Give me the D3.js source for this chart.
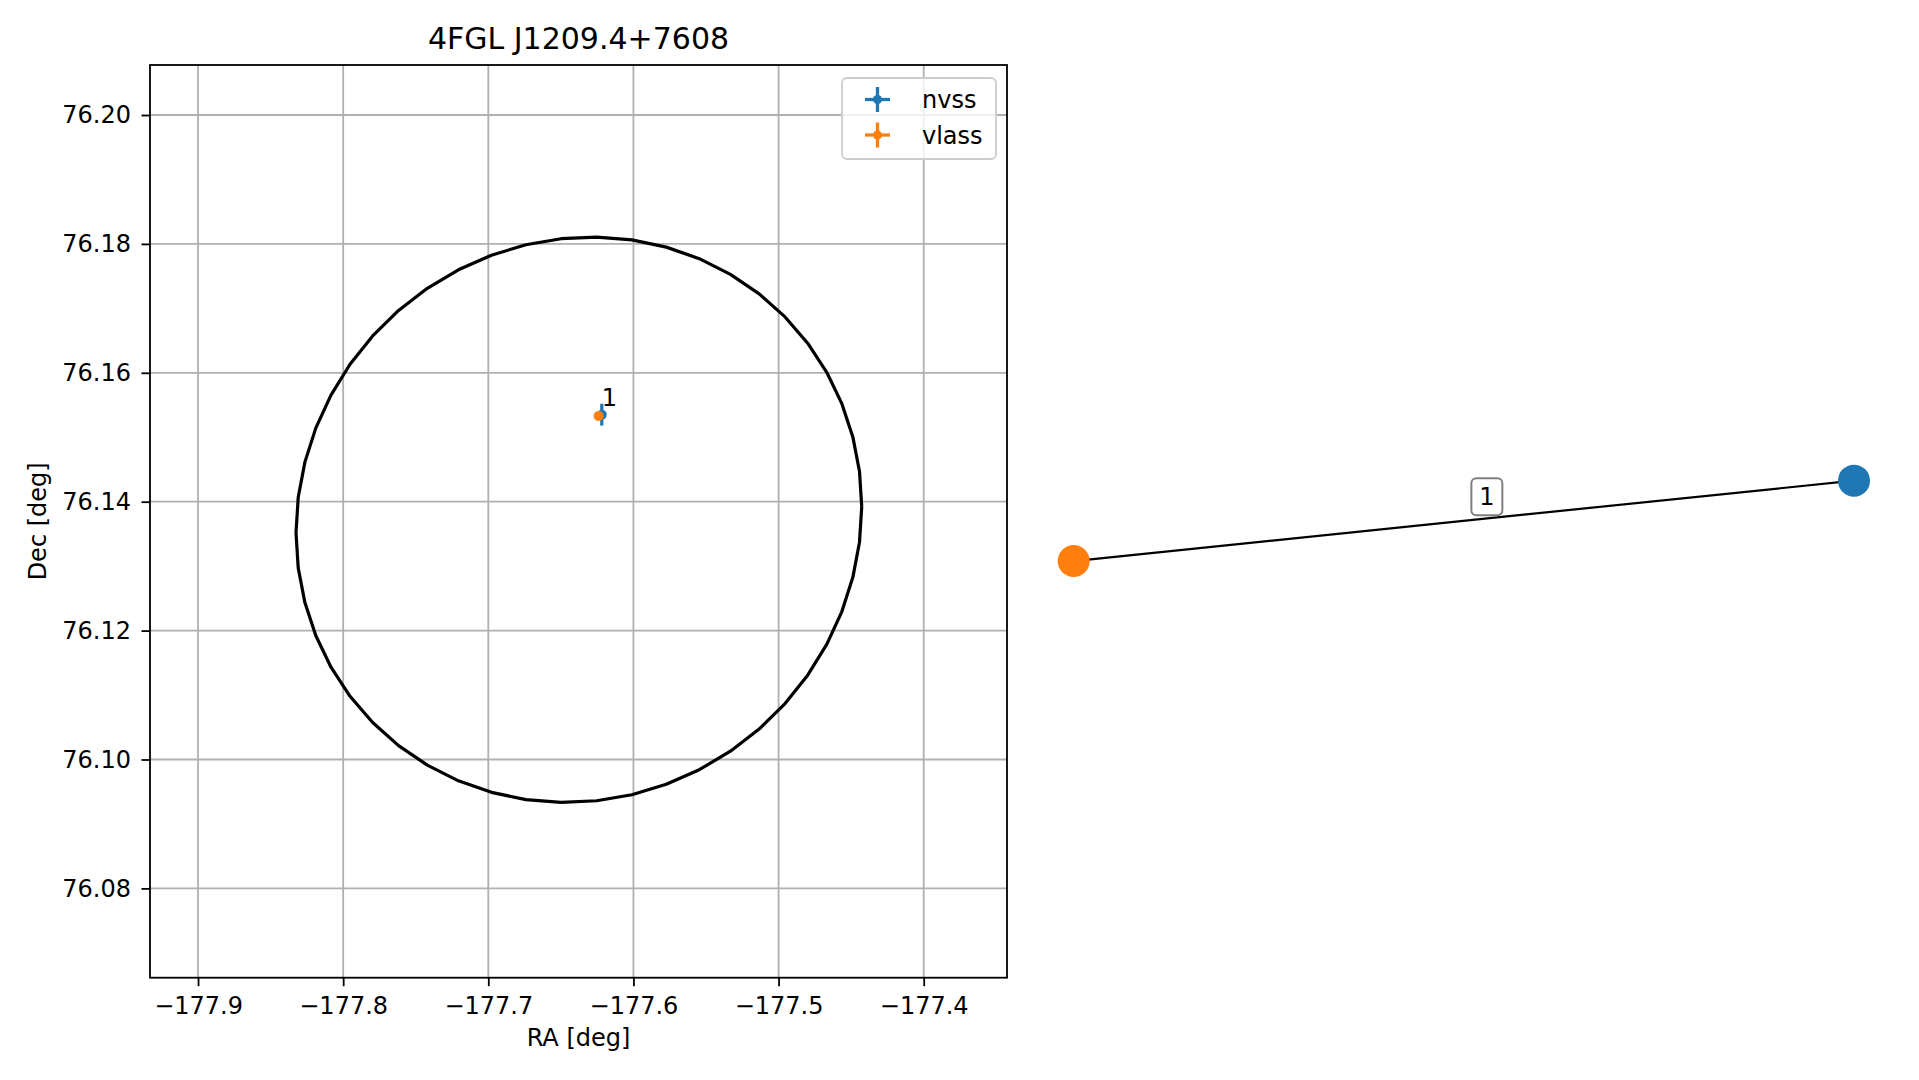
<!DOCTYPE html>
<html>
<head>
<meta charset="utf-8">
<script src="https://cdn.jsdelivr.net/npm/d3@7"></script>
<style>
  html, body { margin: 0; padding: 0; background: #fff; }
  svg { display: block; font-family: "DejaVu Sans", sans-serif; }
</style>
</head>
<body>
<svg id="chart" width="1919" height="1080"></svg>
<script>
// ---------------- data ----------------
const title = "4FGL J1209.4+7608";
const xTicks = [-177.9, -177.8, -177.7, -177.6, -177.5, -177.4];
const yTicks = [76.08, 76.10, 76.12, 76.14, 76.16, 76.18, 76.20];
const xDomain = [-177.9331, -177.3426];
const yDomain = [76.06614, 76.20776];

// radio sources: name, RA, Dec, RA err, Dec err
const sourceNames = ["nvss", "vlass"];
const sourceRA = [-177.6218, -177.6240];
const sourceDec = [76.1535, 76.1533];
const sourceRAErr = [0.0006, 0.0002];
const sourceDecErr = [0.0017, 0.0003];
const sourceColors = ["#1f77b4", "#ff7f0e"];
const matchLabel = "1";

// 4FGL localisation ellipse: centre, RA semi-axis, Dec semi-axis, Dec shear
const ellCenter = [-177.6376, 76.1372];
const ellRA = 0.1949;
const ellDec = 0.04382;
const ellShear = 0.00202;
const ellVertices = 50;

// graph (right panel): node layout positions
const graphNodes = ["nvss", "vlass"];
const graphX = [1.0, -1.0];
const graphY = [0.103, -0.103];
const graphEdges = [["nvss", "vlass", "1"]];

// ---------------- drawing ----------------
const FS = 24;
const svg = d3.select("#chart");
const L = 150, R = 1007, T = 65, B = 977.7;
const x = d3.scaleLinear().domain(xDomain).range([L, R]);
const y = d3.scaleLinear().domain(yDomain).range([B, T]);
const fmtMinus = v => d3.format(".1f")(v).replace("-", "\u2212");

// grid
const grid = svg.append("g").attr("stroke", "#b0b0b0").attr("stroke-width", 1.8);
xTicks.forEach(v => grid.append("line").attr("x1", x(v)).attr("x2", x(v)).attr("y1", T).attr("y2", B));
yTicks.forEach(v => grid.append("line").attr("x1", L).attr("x2", R).attr("y1", y(v)).attr("y2", y(v)));

// ellipse
const ellPts = d3.range(ellVertices + 1).map(i => {
  const t = 2 * Math.PI * i / ellVertices;
  return [ellCenter[0] + ellRA * Math.cos(t), ellCenter[1] + ellShear * Math.cos(t) + ellDec * Math.sin(t)];
});
svg.append("path")
  .attr("d", d3.line().x(d => x(d[0])).y(d => y(d[1]))(ellPts))
  .attr("fill", "none").attr("stroke", "#000").attr("stroke-width", 3.2).attr("stroke-linejoin", "round");

// sources with error bars
sourceNames.forEach((n, i) => {
  const g = svg.append("g");
  g.append("line").attr("x1", x(sourceRA[i] - sourceRAErr[i])).attr("x2", x(sourceRA[i] + sourceRAErr[i]))
    .attr("y1", y(sourceDec[i])).attr("y2", y(sourceDec[i]))
    .attr("stroke", sourceColors[i]).attr("stroke-width", 3.3);
  g.append("line").attr("x1", x(sourceRA[i])).attr("x2", x(sourceRA[i]))
    .attr("y1", y(sourceDec[i] - sourceDecErr[i])).attr("y2", y(sourceDec[i] + sourceDecErr[i]))
    .attr("stroke", sourceColors[i]).attr("stroke-width", 3.3);
  g.append("circle").attr("cx", x(sourceRA[i])).attr("cy", y(sourceDec[i])).attr("r", 5)
    .attr("fill", sourceColors[i]);
});
svg.append("text").attr("x", x(sourceRA[0])).attr("y", y(sourceDec[0]) - 9)
  .attr("font-size", FS).attr("fill", "#000").text(matchLabel);

// frame
svg.append("rect").attr("x", L).attr("y", T).attr("width", R - L).attr("height", B - T)
  .attr("fill", "none").attr("stroke", "#000").attr("stroke-width", 1.8);

// axes
const xAxis = svg.append("g").attr("transform", `translate(0,${B})`)
  .call(d3.axisBottom(x).tickValues(xTicks).tickFormat(fmtMinus).tickSize(8.5).tickPadding(10.5));
const yAxis = svg.append("g").attr("transform", `translate(${L},0)`)
  .call(d3.axisLeft(y).tickValues(yTicks).tickFormat(d3.format(".2f")).tickSize(8.5).tickPadding(10.5));
[xAxis, yAxis].forEach(a => {
  a.select(".domain").remove();
  a.selectAll(".tick line").attr("stroke", "#000").attr("stroke-width", 1.8);
  a.selectAll(".tick text").attr("font-size", FS).attr("fill", "#000").attr("font-family", "DejaVu Sans");
});

// labels
svg.append("text").attr("x", (L + R) / 2).attr("y", 49).attr("text-anchor", "middle")
  .attr("font-size", 30).attr("fill", "#000").text(title);
svg.append("text").attr("x", (L + R) / 2).attr("y", 1046).attr("text-anchor", "middle")
  .attr("font-size", FS).attr("fill", "#000").text("RA [deg]");
svg.append("text").attr("transform", `translate(46,${(T + B) / 2}) rotate(-90)`).attr("text-anchor", "middle")
  .attr("font-size", FS).attr("fill", "#000").text("Dec [deg]");

// legend
const lg = svg.append("g");
lg.append("rect").attr("x", 842).attr("y", 78).attr("width", 154).attr("height", 81).attr("rx", 5)
  .attr("fill", "#fff").attr("fill-opacity", 0.8).attr("stroke", "#cccccc").attr("stroke-width", 1.8);
sourceNames.forEach((n, i) => {
  const cy = 99.5 + i * 35.5, cx = 877.5;
  lg.append("line").attr("x1", cx - 12.5).attr("x2", cx + 12.5).attr("y1", cy).attr("y2", cy)
    .attr("stroke", sourceColors[i]).attr("stroke-width", 3.3);
  lg.append("line").attr("x1", cx).attr("x2", cx).attr("y1", cy - 12.5).attr("y2", cy + 12.5)
    .attr("stroke", sourceColors[i]).attr("stroke-width", 3.3);
  lg.append("circle").attr("cx", cx).attr("cy", cy).attr("r", 4.5).attr("fill", sourceColors[i]);
  lg.append("text").attr("x", 922).attr("y", cy + 8.5).attr("font-size", FS).attr("fill", "#000").text(n);
});

// ---------------- right panel: graph ----------------
const gx = d3.scaleLinear().domain([-1, 1]).range([1073.7, 1854]);
const gy = d3.scaleLinear().domain([-1, 1]).range([520.85 + 390.15, 520.85 - 390.15]);
const nodeColor = { nvss: sourceColors[0], vlass: sourceColors[1] };
const pos = {};
graphNodes.forEach((n, i) => pos[n] = [gx(graphX[i]), gy(graphY[i])]);
graphEdges.forEach(([a, b, lab]) => {
  svg.append("line").attr("x1", pos[a][0]).attr("y1", pos[a][1]).attr("x2", pos[b][0]).attr("y2", pos[b][1])
    .attr("stroke", "#000").attr("stroke-width", 2.2);
  const mx = (pos[a][0] + pos[b][0]) / 2 + 23, my = (pos[a][1] + pos[b][1]) / 2 - 24;
  svg.append("rect").attr("x", mx - 15.5).attr("y", my - 18.5).attr("width", 31).attr("height", 37).attr("rx", 5)
    .attr("fill", "#fff").attr("stroke", "#7f7f7f").attr("stroke-width", 2);
  svg.append("text").attr("x", mx).attr("y", my + 8.5).attr("text-anchor", "middle")
    .attr("font-size", FS).attr("fill", "#000").text(lab);
});
graphNodes.forEach(n => {
  svg.append("circle").attr("cx", pos[n][0]).attr("cy", pos[n][1]).attr("r", 16).attr("fill", nodeColor[n]);
});
</script>
</body>
</html>
